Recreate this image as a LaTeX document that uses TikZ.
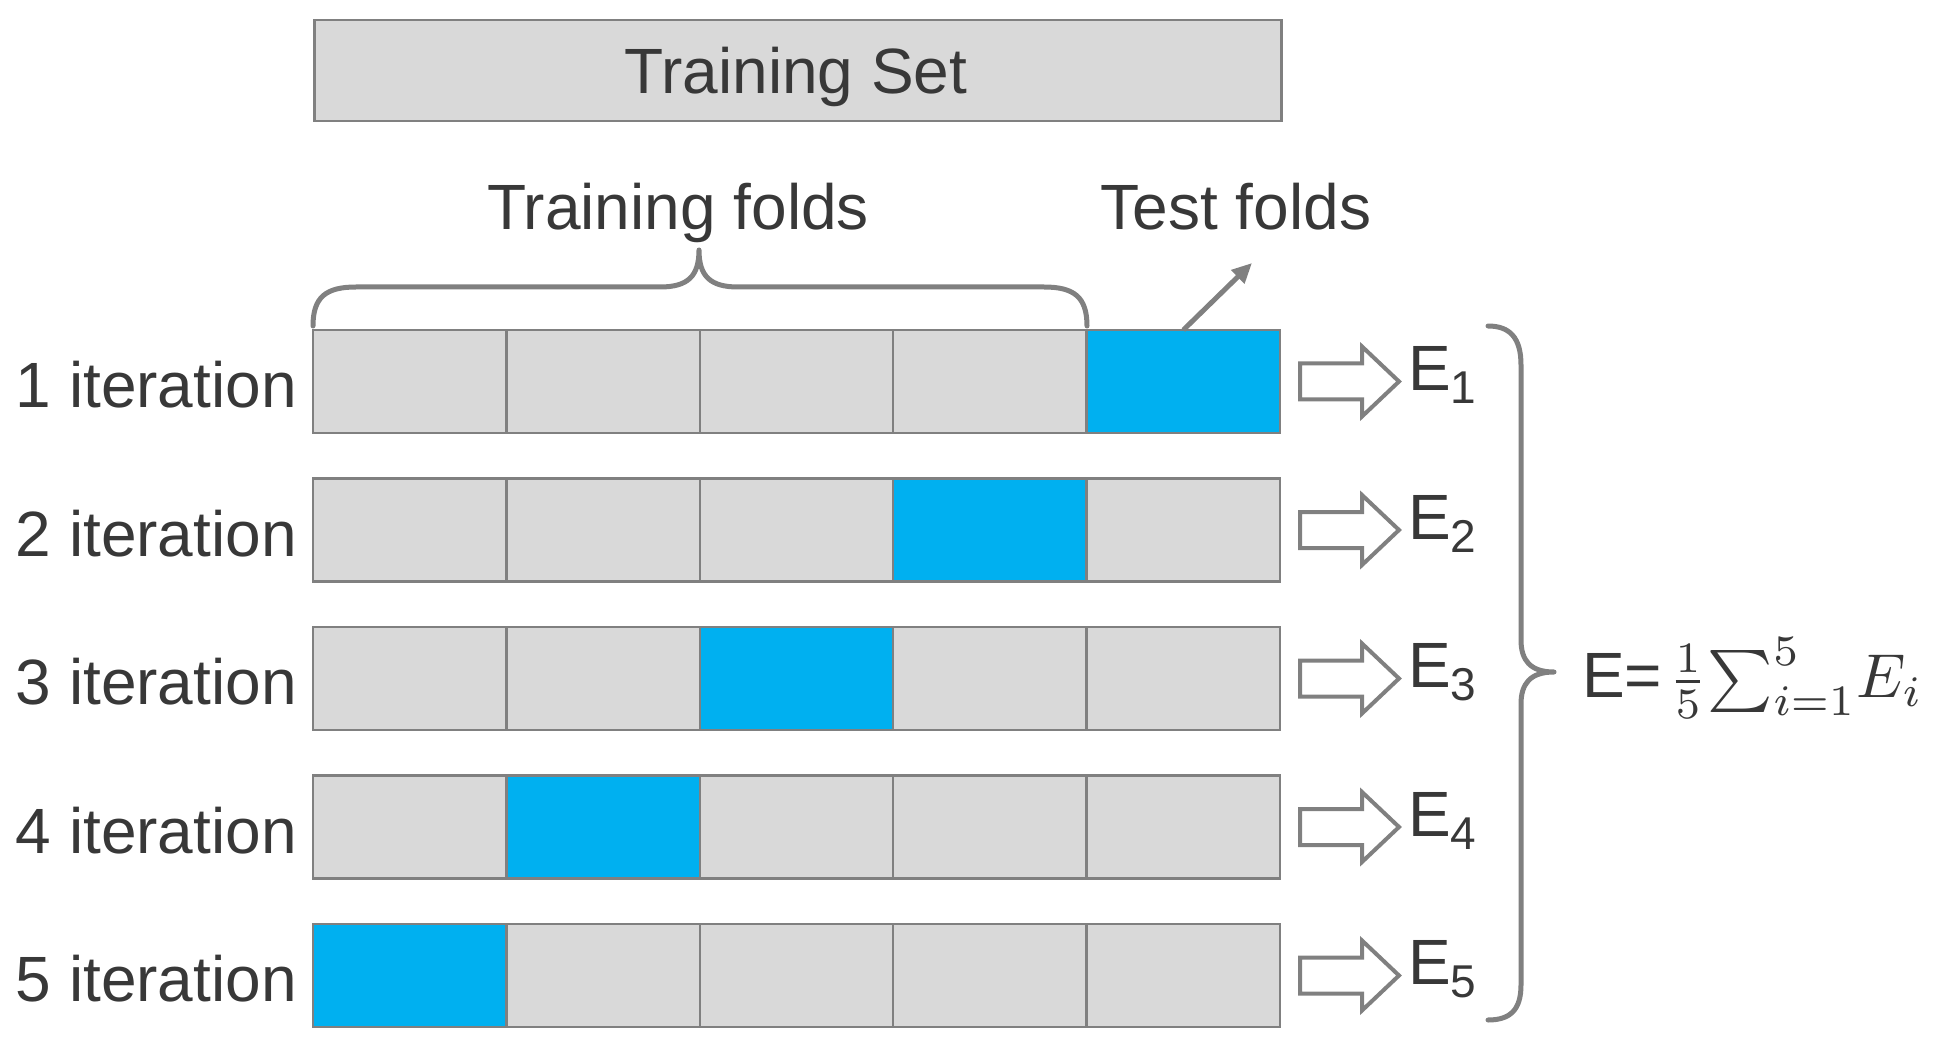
\documentclass[tikz,border=0pt]{standalone}
\usepackage{fontspec}
\usepackage{graphicx}
\setmainfont{Liberation Sans}
\usetikzlibrary{arrows.meta}
\definecolor{cellgray}{HTML}{D9D9D9}
\definecolor{edgegray}{HTML}{808080}
\definecolor{testblue}{HTML}{00B0F0}
\definecolor{txt}{HTML}{383838}
\begin{document}
\begin{tikzpicture}[x=1pt,y=-1pt,
  cell/.style={draw=edgegray, line width=2.5pt, fill=cellgray, minimum width=193.4pt,
    minimum height=103pt, inner sep=0pt, outer sep=0pt, anchor=north west},
  testcell/.style={cell, fill=testblue},
  lbl/.style={text=txt, font=\fontsize{64}{70}\selectfont, inner sep=0pt},
  bracestyle/.style={draw=edgegray, line width=5pt, line cap=round, line join=round},
  blockarrow/.style={draw=edgegray, line width=4pt, fill=white, line join=miter}]
\useasboundingbox (0,0) rectangle (1941,1056);
% training set box
\node[draw=edgegray, line width=2.5pt, fill=cellgray, minimum width=967pt, minimum height=101pt,
  anchor=north west, inner sep=0pt] (ts) at (313,19) {};
\node[lbl, anchor=base] (tstext) at (796,94) {Training Set};
% rows
\foreach \r in {1,...,5} {
  \pgfmathsetmacro{\ytop}{330+148.5*(\r-1)}
  \pgfmathsetmacro{\yc}{\ytop+51.5}
  \pgfmathtruncatemacro{\tc}{6-\r}
  \foreach \c in {1,...,5} {
    \pgfmathsetmacro{\xl}{313+193.4*(\c-1)}
    \ifnum\c=\tc
      \node[testcell] (c\r\c) at (\xl,\ytop) {};
    \else
      \node[cell] (c\r\c) at (\xl,\ytop) {};
    \fi
  }
  \node[lbl, anchor=base east] (it\r) at (297,\yc+26) {\r\ iteration};
  \draw[blockarrow] (1300,\yc-18) -- (1362,\yc-18) -- (1362,\yc-35) -- (1399,\yc)
    -- (1362,\yc+35) -- (1362,\yc+18) -- (1300,\yc+18) -- cycle;
  \node[lbl, anchor=base west] (e\r) at (1408,\yc+9) {E\lower13pt\hbox{\fontsize{46}{46}\selectfont\r}};
}
% training folds brace
\draw[bracestyle] (313,326) .. controls (313,297) and (326,287) .. (356,287) -- (660,287)
  .. controls (688,287) and (699,276) .. (699,250)
  .. controls (699,276) and (710,287) .. (738,287) -- (1044,287)
  .. controls (1074,287) and (1087,297) .. (1087,326);
\node[lbl, anchor=base] (tf) at (678,230) {Training folds};
\node[lbl, anchor=base] (tef) at (1236,230) {Test folds};
\coordinate (tfend) at (1252,263);
\draw[draw=edgegray, line width=5pt, -{Triangle[length=20pt,width=18pt]}] (c15.north) -- (tfend);
% right brace
\draw[bracestyle] (1488,326) .. controls (1510,326) and (1521,338) .. (1521,365) -- (1521,640)
  .. controls (1521,660) and (1530,672) .. (1554,672)
  .. controls (1530,672) and (1521,684) .. (1521,704) -- (1521,985)
  .. controls (1521,1010) and (1510,1020) .. (1488,1020);
\node[lbl, anchor=base west] (formula) at (1582,697) {E=\hspace{6pt}\scalebox{6.2}{\fontsize{10}{12}\selectfont$\frac{1}{5}\!\sum\nolimits_{i=1}^{5}\!E_i$}};
\end{tikzpicture}
\end{document}
